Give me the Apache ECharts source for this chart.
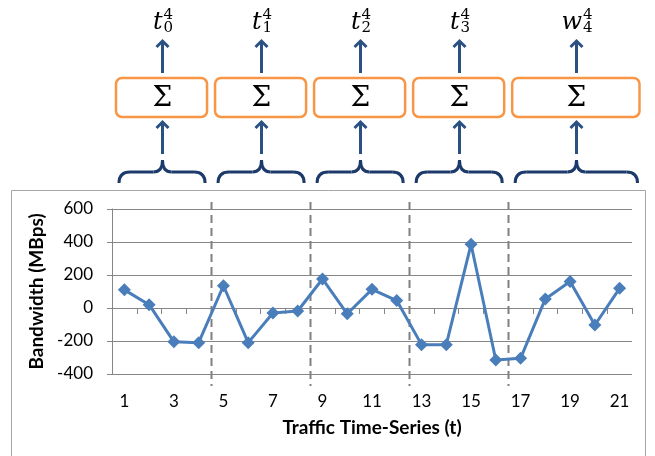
<!DOCTYPE html>
<html>
<head>
<meta charset="utf-8">
<script src="https://cdn.jsdelivr.net/npm/echarts@6/dist/echarts.min.js"></script>
<style>
  html, body { margin: 0; padding: 0; background: #fff; }
  #chart { width: 655px; height: 456px; }
</style>
</head>
<body>
<div id="chart"></div>
<script>
// Time steps of the traffic series
const timeSteps = ['1','2','3','4','5','6','7','8','9','10','11','12','13','14','15','16','17','18','19','20','21'];
// Bandwidth per time step (MBps)
const bandwidth = [110, 20, -205, -210, 135, -210, -30, -18, 176, -35, 113, 45, -222, -222, 386, -315, -305, 55, 160, -103, 119];
// Value axis range and step
const yRange = [-400, 600];
const yStep = 200;
// Aggregation windows (first and last time step of each window)
const windowStarts = [1, 5, 9, 13, 17];
const windowEnds = [4, 8, 12, 16, 21];
// Output symbol of each window: base letter, subscript, superscript
const outBase = ['t', 't', 't', 't', 'w'];
const outSub = ['0', '1', '2', '3', '4'];
const outSup = ['4', '4', '4', '4', '4'];

const chart = echarts.init(document.getElementById('chart'), null, { renderer: 'canvas' });

const sansFont = 'Lato';
const mathFont = 'DejaVu Serif';
const axisGray = '#868686';

const option = {
  animation: false,
  backgroundColor: '#fff',
  grid: { left: 112, right: 23, top: 209, bottom: 82 },
  xAxis: {
    type: 'category',
    data: timeSteps,
    boundaryGap: true,
    name: 'Traffic Time-Series (t)',
    nameLocation: 'middle',
    nameGap: 44,
    nameTextStyle: { fontFamily: sansFont, fontWeight: 'bold', fontSize: 19, color: '#000' },
    axisLine: { lineStyle: { color: axisGray, width: 1 } },
    axisTick: { show: true, interval: 0, length: 6, lineStyle: { color: axisGray } },
    axisLabel: { interval: 1, fontFamily: sansFont, fontSize: 17, color: '#000', margin: 19 },
    splitLine: { show: false }
  },
  yAxis: {
    type: 'value',
    min: yRange[0],
    max: yRange[1],
    interval: yStep,
    name: 'Bandwidth (MBps)',
    nameLocation: 'middle',
    nameRotate: 90,
    nameGap: 56,
    nameTextStyle: { fontFamily: sansFont, fontWeight: 'bold', fontSize: 19, color: '#000' },
    axisLine: { show: true, lineStyle: { color: axisGray, width: 1 } },
    axisTick: { show: true, length: 5, lineStyle: { color: axisGray } },
    axisLabel: { fontFamily: sansFont, fontSize: 17, color: '#000', margin: 19 },
    splitLine: { show: true, lineStyle: { color: axisGray, width: 1 } }
  },
  series: [{
    type: 'line',
    data: bandwidth,
    symbol: 'diamond',
    symbolSize: 13,
    showAllSymbol: true,
    itemStyle: { color: '#4A7EBB' },
    lineStyle: { color: '#4A7EBB', width: 3 },
    z: 5
  }]
};

chart.setOption(option);

// ---- Aggregation diagram above the plot ----
const measure = (() => {
  const ctx = document.createElement('canvas').getContext('2d');
  return (text, font) => { ctx.font = font; return ctx.measureText(text).width; };
})();

const xCenter = i => chart.convertToPixel({ xAxisIndex: 0 }, timeSteps[i]);
const band = xCenter(1) - xCenter(0);
// left edge of the slot of time step k (1-based)
const slotLeft = k => xCenter(k - 1) - band / 2;
const yTop = chart.convertToPixel({ yAxisIndex: 0 }, yRange[1]);
const yBottom = chart.convertToPixel({ yAxisIndex: 0 }, yRange[0]);

const frame = { x: 11.5, y: 190.5, right: 645.5 };
const arrowColor = '#2B5183';
const braceColor = '#1C3A6B';
const boxColor = '#F79646';

const elems = [];

// outer chart frame
elems.push({
  type: 'rect', z: 0, silent: true,
  shape: { x: frame.x, y: frame.y, width: frame.right - frame.x, height: 300 },
  style: { fill: null, stroke: '#A6A6A6', lineWidth: 1 }
});

// dashed separators between windows
for (let g = 1; g < windowStarts.length; g++) {
  const x = Math.round(slotLeft(windowStarts[g])) + 0.5;
  elems.push({
    type: 'line', z: 3, silent: true,
    shape: { x1: x, y1: yTop - 7, x2: x, y2: yBottom + 12 },
    style: { stroke: '#808080', lineWidth: 2, lineDash: [8, 5] }
  });
}

function arrow(cx, tipY, tailY) {
  elems.push({
    type: 'line', z: 10, silent: true,
    shape: { x1: cx, y1: tailY, x2: cx, y2: tipY + 1 },
    style: { stroke: arrowColor, lineWidth: 3 }
  });
  elems.push({
    type: 'polyline', z: 10, silent: true,
    shape: { points: [[cx - 6, tipY + 7], [cx, tipY + 1], [cx + 6, tipY + 7]] },
    style: { stroke: arrowColor, lineWidth: 3, fill: null, lineJoin: 'miter' }
  });
}

function braceStroke(shape, type) {
  elems.push({
    type: type, z: 10, silent: true, shape: shape,
    style: { fill: null, stroke: braceColor, lineWidth: 3 }
  });
}

const boxTop = 78, boxBottom = 117;
for (let g = 0; g < windowStarts.length; g++) {
  const left = slotLeft(windowStarts[g]) + 4;
  const isLast = g === windowStarts.length - 1;
  const right = isLast ? frame.right - 6 : slotLeft(windowEnds[g] + 1) - 4;
  const cx = Math.round((left + right) / 2) + 0.5;

  // summation box
  elems.push({
    type: 'rect', z: 10, silent: true,
    shape: { x: left, y: boxTop, width: right - left, height: boxBottom - boxTop, r: 6 },
    style: { fill: '#fff', stroke: boxColor, lineWidth: 2.5 }
  });
  elems.push({
    type: 'text', z: 11, silent: true,
    style: { text: '\u03A3', x: cx, y: (boxTop + boxBottom) / 2 + 1, align: 'center', verticalAlign: 'middle',
      font: '28px "' + mathFont + '"', fill: '#000' }
  });

  // arrows into and out of the box
  arrow(cx, 121, 154);
  arrow(cx, 40, 73);

  // curly brace spanning the window
  const bl = left + 3, br = right - 2, by = 183, bh = 172, bp = 160;
  braceStroke({ x1: bl, y1: by, cpx1: bl, cpy1: bh, x2: bl + 11, y2: bh }, 'bezierCurve');
  braceStroke({ x1: bl + 11, y1: bh, x2: cx - 9, y2: bh }, 'line');
  braceStroke({ x1: cx - 9, y1: bh, cpx1: cx, cpy1: bh, x2: cx, y2: bp }, 'bezierCurve');
  braceStroke({ x1: cx, y1: bp, cpx1: cx, cpy1: bh, x2: cx + 9, y2: bh }, 'bezierCurve');
  braceStroke({ x1: cx + 9, y1: bh, x2: br - 11, y2: bh }, 'line');
  braceStroke({ x1: br - 11, y1: bh, cpx1: br, cpy1: bh, x2: br, y2: by }, 'bezierCurve');

  // output symbol with subscript and superscript
  const baseFont = 'italic 24px "' + mathFont + '"';
  const scriptFont = '15px "' + mathFont + '"';
  const wb = measure(outBase[g], baseFont);
  const ws = Math.max(measure(outSub[g], scriptFont), measure(outSup[g], scriptFont));
  const startX = cx - (wb + ws) / 2;
  elems.push({
    type: 'text', z: 11, silent: true,
    style: { text: outBase[g], x: startX, y: 23, align: 'left', verticalAlign: 'middle',
      font: baseFont, fill: '#000' }
  });
  elems.push({
    type: 'text', z: 11, silent: true,
    style: { text: outSup[g], x: startX + wb + 1, y: 15, align: 'left', verticalAlign: 'middle',
      font: scriptFont, fill: '#000' }
  });
  elems.push({
    type: 'text', z: 11, silent: true,
    style: { text: outSub[g], x: startX + wb + 1, y: 28, align: 'left', verticalAlign: 'middle',
      font: scriptFont, fill: '#000' }
  });
}

chart.setOption({ graphic: elems });
</script>
</body>
</html>
